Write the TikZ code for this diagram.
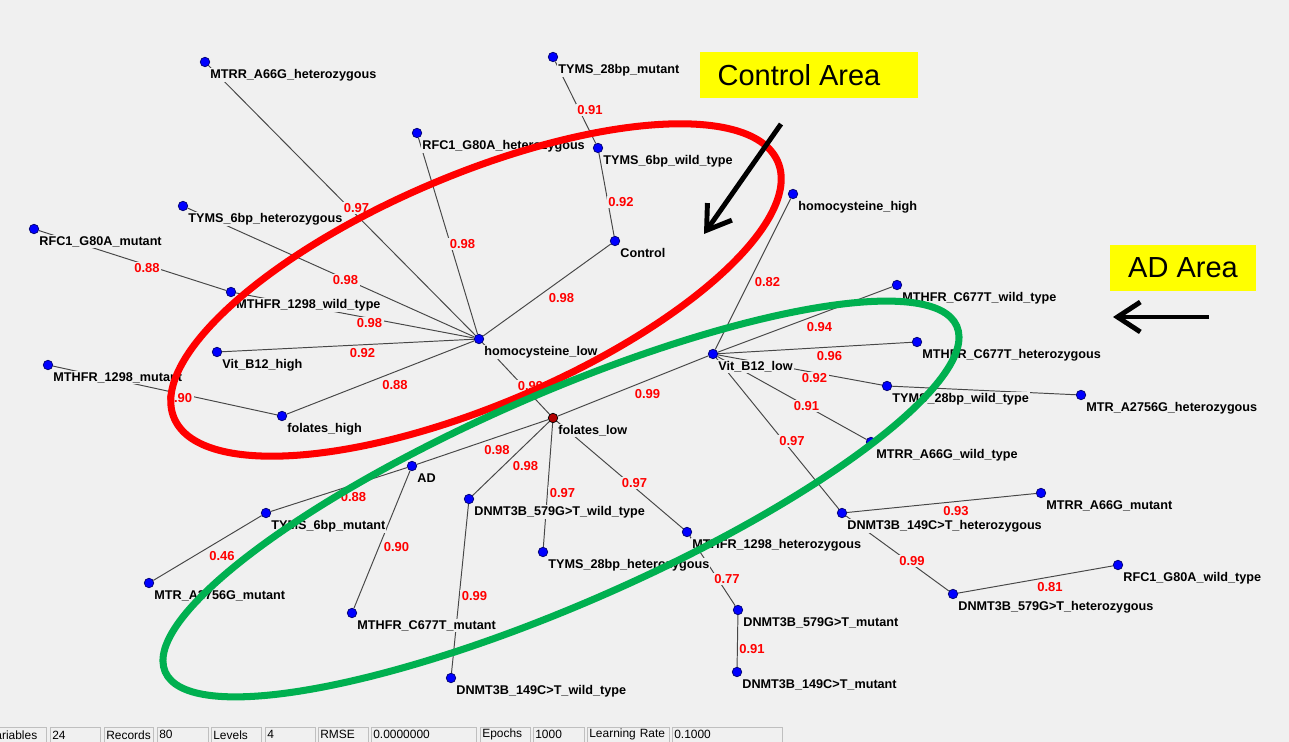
\documentclass[tikz,border=0pt]{standalone}
\usepackage{fontspec}
\setmainfont{Liberation Sans}
\usetikzlibrary{positioning,arrows.meta}
\pgfdeclarelayer{canvas}
\pgfdeclarelayer{links}
\pgfsetlayers{canvas,links,main}
\definecolor{canvasGray}{RGB}{240,240,240}
\definecolor{dotBlue}{RGB}{0,0,255}
\definecolor{dotRim}{RGB}{0,0,110}
\definecolor{markerYellow}{RGB}{255,255,0}
\definecolor{ringGreen}{RGB}{0,176,80}
\colorlet{ringRed}{red}
\colorlet{linkGray}{black!72}
\colorlet{weightRed}{red}
\tikzstyle{geneDot}=[circle,fill=dotBlue,draw=dotRim,line width=0.4pt,minimum size=0.19cm,inner sep=0pt]
\tikzstyle{geneDotHot}=[geneDot,fill=red!70!black,draw=black]
\tikzstyle{geneLabel}=[font=\fontsize{7.2}{8}\selectfont\bfseries,fill=canvasGray,inner sep=0.6pt]
\tikzstyle{link}=[draw=linkGray,line width=0.55pt]
\tikzstyle{weight}=[font=\fontsize{7.4}{8}\selectfont\bfseries,text=weightRed,fill=canvasGray,inner sep=0.8pt,pos=0.5,anchor=north west,yshift=-0.3mm]
\tikzstyle{ring}=[line width=4pt]
\tikzstyle{areaTag}=[fill=markerYellow,minimum width=4.36cm,minimum height=0.92cm,font=\fontsize{16.5}{18}\selectfont]
\tikzstyle{pointer}=[line width=2.8pt,-{Straight Barb[length=13pt,width=17pt]}]
\tikzstyle{barField}=[draw=black!25,fill=canvasGray,minimum height=0.3cm,inner xsep=1pt,inner ysep=0.5pt,anchor=north west,align=left,font=\fontsize{6.8}{7}\selectfont]

\begin{document}
\begin{tikzpicture}[x=0.02cm,y=-0.02cm]
\begin{pgfonlayer}{canvas}
        \fill[canvasGray] (0,0) rectangle (1289,742);
\end{pgfonlayer}
\useasboundingbox (0,0) rectangle (1289,742);
        \foreach \id/\px/\py/\txt in {
                mtrrAhet/205/62/MTRR\_A66G\_heterozygous,
                tyms28mut/553/57/TYMS\_28bp\_mutant,
                rfcHet/417/133/RFC1\_G80A\_heterozygous,
                tyms6wild/598/148/TYMS\_6bp\_wild\_type,
                hcyHigh/793/194/homocysteine\_high,
                tyms6het/183/206/TYMS\_6bp\_heterozygous,
                rfcMut/34/229/RFC1\_G80A\_mutant,
                control/615/241/Control,
                mthfrAwild/231/292/MTHFR\_1298\_wild\_type,
                mthfrCwild/897/285/MTHFR\_C677T\_wild\_type,
                hcyLow/479/339/homocysteine\_low,
                vitHigh/217/352/Vit\_B12\_high,
                vitLow/713/354/Vit\_B12\_low,
                mthfrChet/917/342/MTHFR\_C677T\_heterozygous,
                mthfrAmut/48/365/MTHFR\_1298\_mutant,
                tyms28wild/887/386/TYMS\_28bp\_wild\_type,
                mtrHet/1081/395/MTR\_A2756G\_heterozygous,
                folHigh/282/416/folates\_high,
                mtrrWild/871/442/MTRR\_A66G\_wild\_type,
                ad/412/466/AD,
                mtrrMut/1041/493/MTRR\_A66G\_mutant,
                dnmtBwild/469/499/DNMT3B\_579G>T\_wild\_type,
                tyms6mut/266/513/TYMS\_6bp\_mutant,
                dnmtAhet/842/513/DNMT3B\_149C>T\_heterozygous,
                mthfrAhet/687/532/MTHFR\_1298\_heterozygous,
                tyms28het/543/552/TYMS\_28bp\_heterozygous,
                rfcWild/1118/565/RFC1\_G80A\_wild\_type,
                mtrMut/149/583/MTR\_A2756G\_mutant,
                dnmtBhet/953/594/DNMT3B\_579G>T\_heterozygous,
                dnmtBmut/738/610/DNMT3B\_579G>T\_mutant,
                mthfrCmut/352/613/MTHFR\_C677T\_mutant,
                dnmtAmut/737/672/DNMT3B\_149C>T\_mutant,
                dnmtAwild/451/678/DNMT3B\_149C>T\_wild\_type} {
                \node[geneDot] (\id) at (\px,\py) {};
                \node[geneLabel, below right=1.2mm and 0.8mm of \id.center] (\id-txt) {\txt};
        }
        \node[geneDotHot] (folLow) at (553,418) {};
        \node[geneLabel, below right=1.2mm and 0.8mm of folLow.center] (folLow-txt) {folates\_low};
\begin{pgfonlayer}{links}
        \foreach \a/\b/\w in {
                mtrrAhet/hcyLow/0.97, tyms6het/hcyLow/0.98, rfcMut/mthfrAwild/0.88,
                mthfrAwild/hcyLow/0.98, rfcHet/hcyLow/0.98, control/hcyLow/0.98,
                tyms28mut/tyms6wild/0.91, tyms6wild/control/0.92, vitHigh/hcyLow/0.92,
                folHigh/hcyLow/0.88, mthfrAmut/folHigh/0.90, hcyLow/folLow/0.99,
                hcyHigh/vitLow/0.82, vitLow/mthfrCwild/0.94, vitLow/mthfrChet/0.96,
                vitLow/tyms28wild/0.92, vitLow/mtrrWild/0.91, vitLow/dnmtAhet/0.97,
                folLow/vitLow/0.99, folLow/ad/0.98, folLow/dnmtBwild/0.98,
                folLow/tyms28het/0.97, folLow/mthfrAhet/0.97, ad/tyms6mut/0.88,
                tyms6mut/mtrMut/0.46, ad/mthfrCmut/0.90, dnmtBwild/dnmtAwild/0.99,
                mthfrAhet/dnmtBmut/0.77, dnmtBmut/dnmtAmut/0.91, dnmtAhet/mtrrMut/0.93,
                dnmtAhet/dnmtBhet/0.99, dnmtBhet/rfcWild/0.81} {
                \draw[link] (\a) -- node[weight] (\a-\b) {\w} (\b);
        }
        \draw[link] (tyms28wild) -- (mtrHet);
\end{pgfonlayer}
        \coordinate (ctrlMid) at (476,290);
        \coordinate (adMid) at (561,499);
        \draw[ring,draw=ringRed,rotate around={23:(ctrlMid)}] (ctrlMid) ellipse [x radius=6.56cm,y radius=2.3cm];
        \draw[ring,draw=ringGreen,rotate around={23.6:(adMid)}] (adMid) ellipse [x radius=8.64cm,y radius=2.1cm];
        \node[areaTag] (ctrlTag) at (809,75) {Control Area\hspace*{4mm}};
        \node[areaTag, minimum width=2.92cm] (adTag) at (1183,268) {AD Area};
        \coordinate (ctrlFrom) at (781,124);
        \coordinate (ctrlTo) at (704,234);
        \draw[pointer] (ctrlFrom) -- (ctrlTo);
        \coordinate (adFrom) at (1209,317);
        \coordinate (adTo) at (1113,317);
        \draw[pointer] (adFrom) -- (adTo);
\begin{scope}
        \clip (0,0) rectangle (1289,742);
        \foreach \bx/\bw/\btxt [count=\i] in {
                -14/60/Variables, 50/50/24, 104/49/Records, 157/51/80,
                211/50/Levels, 265/50/4, 318/50/RMSE, 371/105/0.0000000,
                480/50/Epochs, 533/51/1000, 587/82/Learning Rate, 672/110/0.1000} {
                \node[barField, minimum width={\bw*0.02cm}, text width={(\bw-4)*0.02cm}] (bar\i) at (\bx,727) {\btxt};
        }
\end{scope}
\end{tikzpicture}
\end{document}
